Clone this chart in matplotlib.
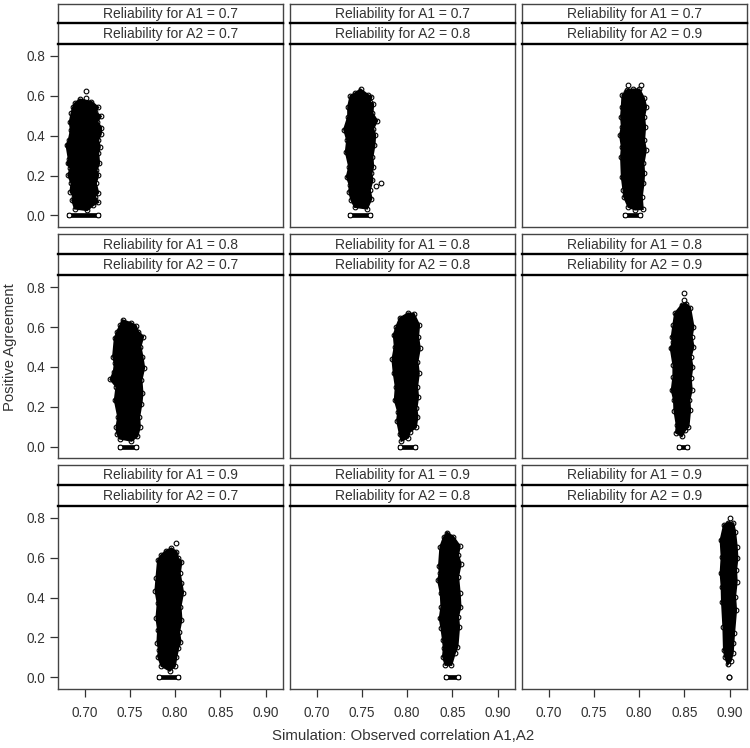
"""
Positive agreement against observed correlation A1,A2, one panel per pair of reliabilities.
The clouds are solid black so only the edge of each one is read off the picture.
"""

import matplotlib
matplotlib.use("Agg")
import matplotlib.pyplot as plt

plt.rcParams['font.family'] = ['Liberation Sans', 'DejaVu Sans']

W = 750
H = 748
INK = '#333333'

rel_a1 = ['0.7', '0.8', '0.9']
rel_a2 = ['0.7', '0.8', '0.9']
x_ticks = [0.70, 0.75, 0.80, 0.85, 0.90]
x_labels = ['0.70', '0.75', '0.80', '0.85', '0.90']
y_ticks = [0.0, 0.2, 0.4, 0.6, 0.8]
y_labels = ['0.0', '0.2', '0.4', '0.6', '0.8']

#edge of the cloud in each panel, row by row
x11 = [.7077, .7151, .7121, .7180, .7140, .7184, .7180, .7151, .7169, .7151, .7162, .7132, .7151, .7125, .7151, .7114, .7151, .7096, .7029, .6893, .6864, .6882, .6845, .6856, .6820, .6845, .6812, .6827, .6801, .6827, .6849, .6838, .6856, .6875, .6893, .6948]
y11 = [.570, .542, .520, .497, .470, .441, .408, .378, .344, .311, .261, .227, .202, .161, .114, .094, .067, .052, .027, .035, .077, .094, .119, .161, .202, .236, .261, .281, .353, .378, .428, .470, .512, .545, .562, .582]
x12 = [.7486, .7570, .7607, .7589, .7626, .7618, .7670, .7626, .7648, .7640, .7618, .7626, .7607, .7618, .7589, .7607, .7559, .7423, .7386, .7361, .7368, .7335, .7361, .7324, .7339, .7305, .7350, .7350, .7375, .7423]
y12 = [.632, .604, .595, .570, .559, .512, .475, .436, .403, .353, .294, .244, .211, .177, .127, .085, .035, .043, .077, .119, .152, .194, .244, .319, .378, .431, .495, .545, .599, .612]
x13 = [.7872, .7938, .8005, .8056, .8078, .8056, .8067, .8056, .8075, .8049, .8056, .8049, .8030, .8041, .7957, .7883, .7835, .7828, .7810, .7802, .7810, .7791, .7810, .7802, .7810, .7817, .7857]
y13 = [.629, .632, .632, .587, .545, .495, .445, .378, .328, .261, .211, .161, .094, .033, .030, .043, .094, .127, .194, .294, .344, .403, .445, .495, .545, .604, .620]
x21 = [.7420, .7519, .7567, .7592, .7648, .7618, .7640, .7659, .7629, .7640, .7629, .7604, .7611, .7585, .7519, .7390, .7361, .7353, .7372, .7335, .7353, .7287, .7324, .7335, .7316, .7335, .7361, .7397]
y21 = [.634, .619, .606, .577, .552, .502, .451, .396, .334, .267, .216, .149, .099, .052, .029, .040, .065, .096, .149, .233, .300, .337, .376, .418, .451, .544, .577, .611]
x22 = [.8012, .8075, .8133, .8122, .8141, .8115, .8130, .8111, .8122, .8104, .8115, .8097, .8030, .8012, .7938, .7920, .7891, .7902, .7865, .7876, .7854, .7839, .7865, .7854, .7883, .7920]
y22 = [.669, .666, .611, .552, .493, .426, .367, .300, .250, .191, .149, .096, .074, .045, .029, .065, .129, .174, .233, .300, .367, .438, .502, .560, .602, .644]
x23 = [.8472, .8520, .8564, .8601, .8582, .8601, .8571, .8590, .8571, .8582, .8557, .8564, .8546, .8509, .8472, .8409, .8417, .8391, .8387, .8362, .8380, .8380, .8351, .8373, .8362, .8380, .8398]
y23 = [.711, .716, .698, .602, .552, .502, .451, .401, .342, .284, .233, .183, .099, .082, .052, .070, .107, .180, .233, .284, .351, .409, .493, .527, .552, .611, .669]
x31 = [.7960, .8016, .8034, .8071, .8052, .8071, .8089, .8060, .8071, .8045, .8060, .8034, .8016, .7997, .7942, .7850, .7813, .7824, .7806, .7813, .7795, .7809, .7784, .7795, .7813, .7850, .7905]
y31 = [.647, .630, .597, .580, .522, .472, .425, .355, .288, .229, .179, .145, .104, .054, .033, .057, .104, .137, .174, .237, .296, .371, .435, .497, .589, .614, .635]
x32 = [.8443, .8509, .8582, .8564, .8593, .8564, .8582, .8590, .8564, .8575, .8557, .8527, .8490, .8424, .8398, .8406, .8398, .8380, .8362, .8380, .8373, .8343, .8362, .8354, .8369, .8406]
y32 = [.726, .706, .659, .614, .569, .505, .421, .355, .304, .254, .154, .120, .062, .062, .104, .145, .187, .246, .296, .355, .421, .488, .522, .559, .656, .702]
x33 = [.9042, .9061, .9079, .9087, .9072, .9079, .9061, .9072, .9050, .9042, .9035, .9013, .8980, .8950, .8939, .8932, .8917, .8913, .8902, .8913, .8902, .8939, .8987]
y33 = [.773, .731, .656, .597, .538, .480, .405, .338, .221, .171, .120, .082, .065, .104, .137, .254, .380, .455, .522, .605, .689, .764, .776]

#points standing clear of the cloud
out_x11 = [.7015, .7020]
out_y11 = [.625, .589]
out_x12 = [.7707, .7655]
out_y12 = [.162, .150]
out_x13 = [.7873, .8027]
out_y13 = [.654, .654]
out_x23 = [.8498, .8498]
out_y23 = [.773, .737]
out_x31 = [.8008]
out_y31 = [.672]
out_x33 = [.9006]
out_y33 = [.799]

#points sitting at zero agreement, first and last are the ends of the run
zero11 = [.6830, .6900, .7000, .7100, .7150]
zero12 = [.7375, .7450, .7520, .7596]
zero13 = [.7846, .7930, .8012]
zero21 = [.7397, .7480, .7574]
zero22 = [.7920, .8000, .8086]
zero23 = [.8437, .8480, .8529]
zero31 = [.7824, .7930, .8034]
zero32 = [.8429, .8500, .8565]
zero33 = [.8996]

edge_x = [[x11, x12, x13], [x21, x22, x23], [x31, x32, x33]]
edge_y = [[y11, y12, y13], [y21, y22, y23], [y31, y32, y33]]
stray_x = [[out_x11, out_x12, out_x13], [[], [], out_x23], [out_x31, [], out_x33]]
stray_y = [[out_y11, out_y12, out_y13], [[], [], out_y23], [out_y31, [], out_y33]]
zeros = [[zero11, zero12, zero13], [zero21, zero22, zero23], [zero31, zero32, zero33]]

#panel layout in pixels of the picture
col_left = [58, 290, 522]
col_right = [283, 515, 747]
strip_top = [3.5, 234, 464.7]
strip_mid = [23.3, 254.3, 485]
plot_top = [44, 275.3, 506]
plot_bottom = [227, 458, 688.7]


def make_axes(f, left, right, top, bottom):
    return f.add_axes([left / W, 1 - bottom / H, (right - left) / W, (bottom - top) / H])


def make_strip(f, left, right, top, bottom, label):
    st = make_axes(f, left, right, top, bottom)
    st.patch.set_alpha(0)
    st.set_xticks([])
    st.set_yticks([])
    for s in st.spines.values():
        s.set_color('#444444')
        s.set_linewidth(1.0)
    st.spines['top'].set_visible(False)
    st.spines['bottom'].set_color('black')
    st.spines['bottom'].set_linewidth(1.7)
    st.text(0.5, 0.47, label, transform=st.transAxes, ha='center', va='center', fontsize=10, color=INK)
    return st


f = plt.figure(figsize=(W / 100, H / 100), dpi=100)

for r in range(3):
    for c in range(3):
        left, right = col_left[c], col_right[c]

        ax = make_axes(f, left, right, plot_top[r], plot_bottom[r])
        ax.fill(edge_x[r][c], edge_y[r][c], color='black', lw=1.5)
        ax.plot(edge_x[r][c], edge_y[r][c], 'o', mfc='none', mec='black', ms=3.4, mew=0.8)
        ax.plot(stray_x[r][c], stray_y[r][c], 'o', mfc='none', mec='black', ms=3.4, mew=0.8)

        zx = zeros[r][c]
        ax.plot(zx, [0.0] * len(zx), '-', color='black', lw=3.4)
        ax.plot([zx[0], zx[-1]], [0.0, 0.0], 'o', mfc='white', mec='black', ms=3.4, mew=0.8)

        ax.set_xlim(0.6707, 0.9193)
        ax.set_ylim(-0.0577, 0.860)
        for s in ax.spines.values():
            s.set_color('#444444')
            s.set_linewidth(1.0)
        ax.spines['top'].set_visible(False)

        if r == 2:
            ax.set_xticks(x_ticks)
            ax.set_xticklabels(x_labels)
        else:
            ax.set_xticks([])
        if c == 0:
            ax.set_yticks(y_ticks)
            ax.set_yticklabels(y_labels)
        else:
            ax.set_yticks([])
        ax.tick_params(axis='both', length=6, width=0.9, color=INK, labelcolor=INK, labelsize=9.8)
        ax.tick_params(axis='x', pad=6.5)
        ax.tick_params(axis='y', pad=3)

        make_strip(f, left, right, strip_mid[r], plot_top[r], "Reliability for A2 = " + rel_a2[c])
        top_strip = make_strip(f, left, right, strip_top[r], strip_mid[r], "Reliability for A1 = " + rel_a1[r])
        top_strip.spines['top'].set_visible(True)

f.text(403 / W, 1 - 736 / H, "Simulation: Observed correlation A1,A2", ha='center', va='center', fontsize=10.8, color=INK)
f.text(10 / W, 1 - 347 / H, "Positive Agreement", ha='center', va='center', rotation='vertical', fontsize=10.6, color=INK)

f.savefig("out.png", dpi=100)
